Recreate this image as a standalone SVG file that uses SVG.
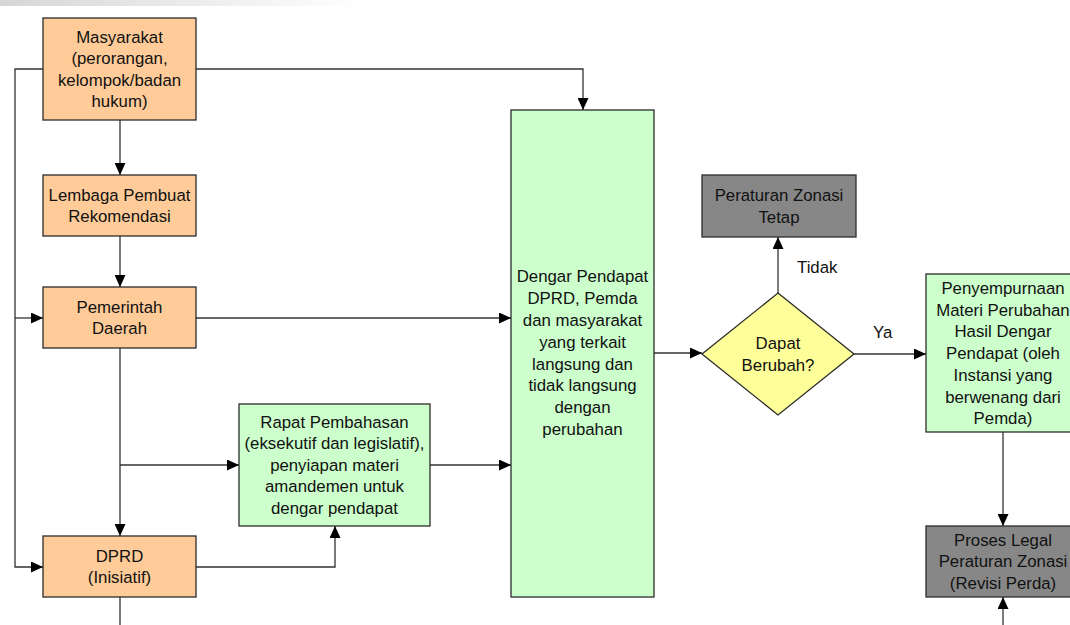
<svg xmlns="http://www.w3.org/2000/svg" width="1070" height="625" viewBox="0 0 1070 625">
  <defs>
    <linearGradient id="topbar" x1="0" y1="0" x2="1" y2="0">
      <stop offset="0" stop-color="#d6d6d6"/>
      <stop offset="1" stop-color="#ffffff"/>
    </linearGradient>
    <marker id="arrow" viewBox="0 0 12 11" refX="12" refY="5.5" markerWidth="12" markerHeight="11" markerUnits="userSpaceOnUse" orient="auto">
      <path d="M0,0 L12,5.5 L0,11 Z" fill="#000"/>
    </marker>
    <style>
      .box { stroke: #2b2b2b; stroke-width: 1.3; }
      .orange { fill: #ffcc99; }
      .green { fill: #ccffcc; }
      .gray { fill: #878787; }
      .yellow { fill: #ffff99; }
      .lbl { font-family: "Liberation Sans", Arial, sans-serif; font-size: 16.8px; fill: #111; text-anchor: middle; }
      .free { text-anchor: start; }
      .conn { fill: none; stroke: #333; stroke-width: 1.3; }
      .arr { marker-end: url(#arrow); }
    </style>
  </defs>

  <rect x="0" y="0" width="362" height="6" fill="url(#topbar)"/>

  <!-- connectors -->
  <g id="connectors">
    <path class="conn arr" d="M120,120 V175"/>
    <path class="conn arr" d="M120,236 V287"/>
    <path class="conn arr" d="M43,69 H15 V567 H43"/>
    <path class="conn arr" d="M15,318 H43"/>
    <path class="conn arr" d="M196,69 H583 V110"/>
    <path class="conn arr" d="M196,318 H511"/>
    <path class="conn arr" d="M120,348 V536"/>
    <path class="conn arr" d="M120,465 H239"/>
    <path class="conn arr" d="M430,465 H511"/>
    <path class="conn arr" d="M196,567 H335 V526"/>
    <path class="conn" d="M120,597 V625"/>
    <path class="conn arr" d="M654,353 H702"/>
    <path class="conn arr" d="M778,293 V237"/>
    <path class="conn arr" d="M854,354 H926"/>
    <path class="conn arr" d="M1003,432 V526"/>
    <path class="conn arr" d="M1003,625 V597"/>
    <text class="lbl free" x="797" y="273">Tidak</text>
    <text class="lbl free" x="873" y="338">Ya</text>
  </g>

  <!-- nodes -->
  <g id="masyarakat">
    <rect class="box orange" x="43" y="18" width="153" height="102"/>
    <text class="lbl" x="119.5" y="42.5">Masyarakat</text>
    <text class="lbl" x="119.5" y="64">(perorangan,</text>
    <text class="lbl" x="119.5" y="85.5">kelompok/badan</text>
    <text class="lbl" x="119.5" y="107">hukum)</text>
  </g>

  <g id="lembaga">
    <rect class="box orange" x="43" y="175" width="153" height="61"/>
    <text class="lbl" x="119.5" y="200.5">Lembaga Pembuat</text>
    <text class="lbl" x="119.5" y="222">Rekomendasi</text>
  </g>

  <g id="pemerintah">
    <rect class="box orange" x="43" y="287" width="153" height="61"/>
    <text class="lbl" x="119.5" y="312.5">Pemerintah</text>
    <text class="lbl" x="119.5" y="334">Daerah</text>
  </g>

  <g id="dprd">
    <rect class="box orange" x="43" y="536" width="153" height="61"/>
    <text class="lbl" x="119.5" y="561.5">DPRD</text>
    <text class="lbl" x="119.5" y="583">(Inisiatif)</text>
  </g>

  <g id="rapat">
    <rect class="box green" x="239" y="404" width="191" height="122"/>
    <text class="lbl" x="334.5" y="427.5">Rapat Pembahasan</text>
    <text class="lbl" x="334.5" y="449">(eksekutif dan legislatif),</text>
    <text class="lbl" x="334.5" y="470.5">penyiapan materi</text>
    <text class="lbl" x="334.5" y="492">amandemen untuk</text>
    <text class="lbl" x="334.5" y="513.5">dengar pendapat</text>
  </g>

  <g id="dengar">
    <rect class="box green" x="511" y="110" width="143" height="487"/>
    <text class="lbl" x="582.5" y="282.3">Dengar Pendapat</text>
    <text class="lbl" x="582.5" y="304.1">DPRD, Pemda</text>
    <text class="lbl" x="582.5" y="325.9">dan masyarakat</text>
    <text class="lbl" x="582.5" y="347.7">yang terkait</text>
    <text class="lbl" x="582.5" y="369.5">langsung dan</text>
    <text class="lbl" x="582.5" y="391.3">tidak langsung</text>
    <text class="lbl" x="582.5" y="413.1">dengan</text>
    <text class="lbl" x="582.5" y="434.9">perubahan</text>
  </g>

  <g id="keputusan">
    <path class="box yellow" d="M778,293 L854,354 L778,415 L702,354 Z"/>
    <text class="lbl" x="778" y="348.5">Dapat</text>
    <text class="lbl" x="778" y="370.5">Berubah?</text>
  </g>

  <g id="zonasi-tetap">
    <rect class="box gray" x="702" y="175" width="154" height="62"/>
    <text class="lbl" x="779" y="201">Peraturan Zonasi</text>
    <text class="lbl" x="779" y="222.5">Tetap</text>
  </g>

  <g id="penyempurnaan">
    <rect class="box green" x="926" y="274" width="154" height="158"/>
    <text class="lbl" x="1003" y="294">Penyempurnaan</text>
    <text class="lbl" x="1003" y="315.7">Materi Perubahan</text>
    <text class="lbl" x="1003" y="337.4">Hasil Dengar</text>
    <text class="lbl" x="1003" y="359.1">Pendapat (oleh</text>
    <text class="lbl" x="1003" y="380.8">Instansi yang</text>
    <text class="lbl" x="1003" y="402.5">berwenang dari</text>
    <text class="lbl" x="1003" y="424.2">Pemda)</text>
  </g>

  <g id="proses-legal">
    <rect class="box gray" x="926" y="526" width="154" height="71"/>
    <text class="lbl" x="1003" y="545.5">Proses Legal</text>
    <text class="lbl" x="1003" y="567.2">Peraturan Zonasi</text>
    <text class="lbl" x="1003" y="588.9">(Revisi Perda)</text>
  </g>
</svg>
